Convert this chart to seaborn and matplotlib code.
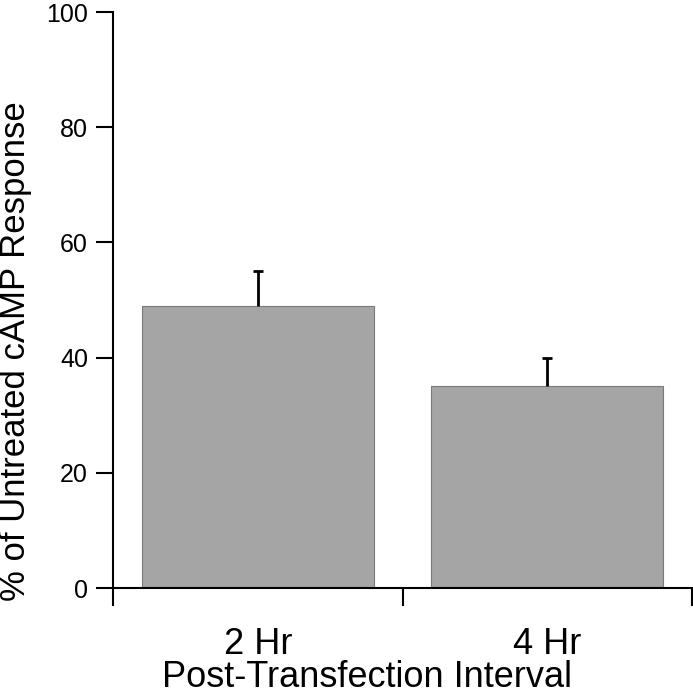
import numpy as np
import pandas as pd
import matplotlib.pyplot as plt
import seaborn as sns
from matplotlib.ticker import FixedLocator

# data
intervals = ["2 Hr", "4 Hr"]
response_pct = [49, 35]
response_err = [6, 5]

sns.set_style("ticks")
plt.rcParams["font.family"] = ["Liberation Sans", "DejaVu Sans"]
plt.rcParams["text.color"] = "black"
plt.rcParams["axes.labelcolor"] = "black"
plt.rcParams["xtick.color"] = "black"
plt.rcParams["ytick.color"] = "black"

df = pd.DataFrame({"interval": intervals, "response": response_pct})

fig = plt.figure(figsize=(6.93, 6.97), dpi=100)
ax = fig.add_axes([113 / 693, 1 - 588 / 697, (692 - 113) / 693, (588 - 12) / 697])

sns.barplot(data=df, x="interval", y="response", color="#a5a5a5", saturation=1,
            width=0.8, edgecolor="#7a7a7a", linewidth=0.8, errorbar=None, ax=ax)

# upper-only error bars
pos = np.arange(len(intervals))
_, caps, _ = ax.errorbar(pos, response_pct,
                         yerr=[np.zeros(len(response_err)), response_err],
                         fmt="none", ecolor="black", elinewidth=2,
                         capsize=3.8, capthick=2)
for cap in caps:
    if np.allclose(cap.get_ydata(), response_pct):
        cap.set_visible(False)

ax.set_xlim(-0.5, len(intervals) - 0.5)
ax.set_ylim(0, 100)
ax.set_yticks([0, 20, 40, 60, 80, 100])

# tick marks at category boundaries, labels without ticks
ax.xaxis.set_minor_locator(FixedLocator(np.arange(-0.5, len(intervals), 1.0)))
ax.tick_params(axis="x", which="major", length=0, labelsize=26, pad=28)
ax.tick_params(axis="x", which="minor", length=13, width=1.5, direction="out")
ax.tick_params(axis="y", length=12, width=1.5, direction="out", labelsize=18, pad=6)

ax.set_xlabel("Post-Transfection Interval", fontsize=26)
ax.xaxis.set_label_coords(0.4387, -0.125)
ax.set_ylabel("% of Untreated cAMP Response", fontsize=25)
ax.yaxis.set_label_coords(-0.14, 0.411)

for side in ["top", "right"]:
    ax.spines[side].set_visible(False)
for side in ["left", "bottom"]:
    ax.spines[side].set_linewidth(1.5)
    ax.spines[side].set_color("black")

fig.savefig("out.png", dpi=100)
